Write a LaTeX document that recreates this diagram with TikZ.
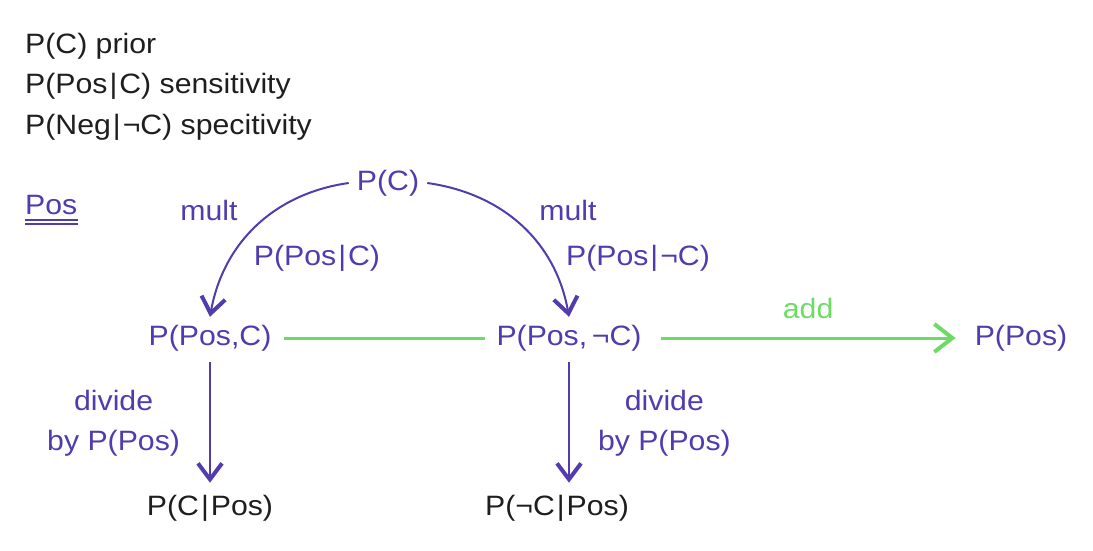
\documentclass[tikz,border=0pt]{standalone}
\usepackage{fontspec}
\setmainfont{Liberation Sans}[FakeStretch=1.08]
\usetikzlibrary{arrows.meta}
\definecolor{probpurple}{RGB}{80,60,175}
\definecolor{addgreen}{RGB}{110,220,100}
\definecolor{textdark}{RGB}{30,30,30}
\newcommand{\gv}{\kern2pt|\kern2pt}

\begin{document}
\begin{tikzpicture}[x=1pt, y=-1pt, font=\fontsize{28}{40}\selectfont]
    % Define styles
    \tikzstyle{prob} = [text=probpurple, inner sep=8pt]
    \tikzstyle{result} = [text=textdark, inner sep=8pt]
    \tikzstyle{note} = [text=textdark, inner sep=0pt, anchor=base west]
    \tikzstyle{lbl} = [text=probpurple, inner sep=0pt, align=center]
    \tikzstyle{arrow} = [probpurple, line width=2pt, -{Straight Barb[length=16pt,width=24pt,line width=4pt]}]
    \tikzstyle{sumline} = [addgreen, line width=3pt]

    \useasboundingbox (0,0) rectangle (1093,550);

    % Definitions
    \node (prior) [note] at (25,53) {P(C) prior};
    \node (sens) [note] at (25,93) {P(Pos\gv C) sensitivity};
    \node (spec) [note] at (25,134) {P(Neg\gv ¬C) specitivity};
    \node (poslbl) [note, text=probpurple] at (25,214) {Pos};
    \draw [probpurple, line width=1.5pt] ([yshift=-6pt]poslbl.base west) -- ([yshift=-6pt]poslbl.base east);
    \draw [probpurple, line width=1.5pt] ([yshift=-10pt]poslbl.base west) -- ([yshift=-10pt]poslbl.base east);

    % Probabilities
    \node (pc) [prob] at (388,183) {P(C)};
    \node (pposc) [prob] at (210,338) {P(Pos,C)};
    \node (pposnc) [prob] at (569,338) {P(Pos,\,¬C)};
    \node (ppos) [prob] at (1021,338) {P(Pos)};
    \node (pcpos) [result] at (210,508) {P(C\gv Pos)};
    \node (pncpos) [result] at (557,508) {P(¬C\gv Pos)};

    % Labels of the curves
    \node (multc) [lbl, anchor=base] at (209,220) {mult};
    \node (likec) [lbl, anchor=base] at (317,265) {P(Pos\gv C)};
    \node (multnc) [lbl, anchor=base] at (568,220) {mult};
    \node (likenc) [lbl, anchor=base] at (638,265) {P(Pos\gv ¬C)};

    % Arrows
    \draw [arrow] (pc.west) to[out=188, in=80] (pposc.north);
    \draw [arrow] (pc.east) to[out=-8, in=100] (pposnc.north);
    \draw [sumline, shorten <=4pt, shorten >=3pt] (pposc) -- (pposnc);
    \draw [sumline, shorten <=11pt, shorten >=11pt, -{Straight Barb[length=18pt,width=28pt,line width=4pt]}] (pposnc) -- node[lbl, text=addgreen, above=18pt] {add} (ppos);
    \draw [arrow, shorten <=3pt, shorten >=4pt] (pposc) -- node[lbl, left=29pt] {divide\\by P(Pos)} (pcpos);
    \draw [arrow, shorten <=3pt, shorten >=4pt] (pposnc.south) -- node[lbl, right=28pt] {divide\\by P(Pos)} (pposnc.south |- pncpos.north);
\end{tikzpicture}
\end{document}
